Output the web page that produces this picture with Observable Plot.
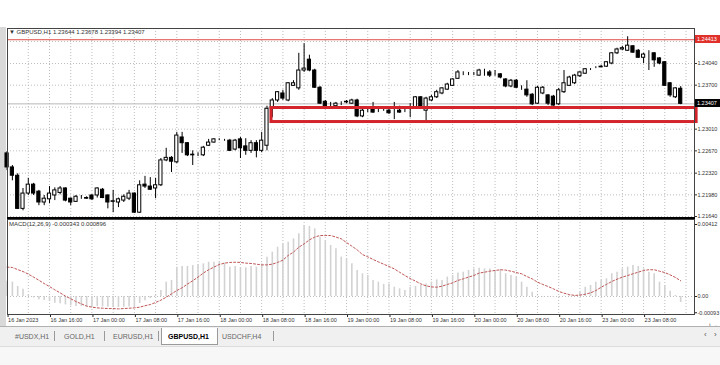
<!DOCTYPE html>
<html><head><meta charset="utf-8">
<script src="https://cdn.jsdelivr.net/npm/d3@7"></script>
<script src="https://cdn.jsdelivr.net/npm/@observablehq/plot@0.6"></script>
<style>
html,body{margin:0;padding:0;}
body{width:720px;height:365px;overflow:hidden;background:#fff;position:relative;font-family:"Liberation Sans",Arial,sans-serif;color:#222;}
.abs{position:absolute;}
#main{position:absolute;left:0;top:28px;}
#macd{position:absolute;left:0;top:219px;}
svg{overflow:visible}
.plbl{position:absolute;left:695px;width:25px;height:8px;font-size:5.5px;line-height:8px;color:#fff;padding-left:2px;box-sizing:border-box;white-space:nowrap;overflow:hidden}
.tab{position:absolute;top:332px;font-size:7px;line-height:9px;color:#666;white-space:nowrap}
.sep{position:absolute;top:331px;width:1px;height:10px;background:#999}
</style></head><body>
<div class="abs" style="left:0;top:27px;width:6px;height:300px;background:#d9d9d9"></div>
<div id="main"></div>
<div id="macd"></div>
<div class="abs" id="hdr" style="left:9px;top:29px;font-size:6px;line-height:7px;color:#333;white-space:nowrap">▼ GBPUSD,H1 1.23644 1.23678 1.23394 1.23407</div>
<div class="abs" id="mhdr" style="left:9px;top:221px;font-size:6px;line-height:7px;color:#333;white-space:nowrap">MACD(12,26,9) -0.000343 0.000896</div>
<div class="abs" style="left:0;top:326px;width:720px;height:39px;background:#f0f0f0;border-top:1px solid #b0b0b0"></div>
<div class="abs" style="left:0;top:346px;width:720px;height:19px;background:#f7f7f7;border-top:1px solid #dcdcdc"></div>
<div class="abs" style="left:161px;top:328px;width:55px;height:16px;background:#fff;border:1px solid #9a9a9a;border-top:none"></div>
<div id="tabs"></div>
<div class="abs" style="left:704px;top:330px;font-size:8px;color:#555">‹</div>
<div class="abs" style="left:714px;top:330px;font-size:8px;color:#555">›</div>
<script>
// ---------- DATA (GBPUSD H1, 128 bars, 16 Jan 08:00 -> 23 Jan 15:00) ----------
const opens = [1.2263,1.2241,1.2228,1.2176,1.2200,1.2214,1.2203,1.2186,1.2191,1.2197,
1.2201,1.2208,1.2192,1.2187,1.2193,1.2193,1.2197,1.2197,1.2206,1.2197,
1.2187,1.2186,1.2189,1.2192,1.2200,1.2170,1.2214,1.2211,1.2208,1.2213,
1.2252,1.2256,1.2249,1.2288,1.2279,1.2260,1.2261,1.2260,1.2275,1.2280,
1.2285,1.2283,1.2283,1.2269,1.2285,1.2274,1.2267,1.2279,1.2267,1.2275,
1.2333,1.2346,1.2357,1.2346,1.2369,1.2365,1.2393,1.2410,1.2393,1.2366,
1.2344,1.2340,1.2337,1.2341,1.2343,1.2341,1.2346,1.2321,1.2330,1.2332,
1.2330,1.2330,1.2330,1.2327,1.2330,1.2330,1.2333,1.2335,1.2351,1.2330,
1.2346,1.2351,1.2357,1.2363,1.2369,1.2380,1.2388,1.2388,1.2387,1.2385,
1.2388,1.2390,1.2388,1.2387,1.2379,1.2368,1.2377,1.2366,1.2363,1.2355,
1.2341,1.2357,1.2354,1.2352,1.2340,1.2359,1.2369,1.2373,1.2384,1.2388,
1.2395,1.2398,1.2398,1.2399,1.2404,1.2420,1.2426,1.2424,1.2431,1.2424,
1.2413,1.2417,1.2420,1.2412,1.2406,1.2373,1.2351,1.23644];
const highs = [1.2266,1.2244,1.2231,1.2208,1.2224,1.2216,1.2205,1.2197,1.2211,1.2209,
1.2211,1.2209,1.2193,1.2197,1.2197,1.2195,1.2198,1.2209,1.2208,1.2198,
1.2205,1.2193,1.2198,1.2205,1.2201,1.2220,1.2227,1.2225,1.2224,1.2255,
1.2271,1.2258,1.2296,1.2296,1.2280,1.2267,1.2264,1.2274,1.2285,1.2286,
1.2286,1.2285,1.2285,1.2285,1.2288,1.2286,1.2283,1.2283,1.2296,1.2337,
1.2349,1.2360,1.2362,1.2374,1.2377,1.2420,1.2435,1.2417,1.2395,1.2368,
1.2346,1.2343,1.2343,1.2344,1.2346,1.2348,1.2348,1.2332,1.2333,1.2343,
1.2333,1.2333,1.2333,1.2343,1.2337,1.2333,1.2341,1.2352,1.2352,1.2351,
1.2354,1.2362,1.2366,1.2373,1.2380,1.2393,1.2391,1.2390,1.2390,1.2395,
1.2395,1.2393,1.2393,1.2388,1.2380,1.2379,1.2379,1.2369,1.2377,1.2357,
1.2368,1.2368,1.2355,1.2354,1.2365,1.2393,1.2384,1.2387,1.2391,1.2396,
1.2396,1.2399,1.2401,1.2407,1.2421,1.2428,1.2431,1.2446,1.2432,1.2426,
1.2420,1.2424,1.2421,1.2413,1.2407,1.2374,1.2366,1.23678];
const lows = [1.2236,1.2220,1.2175,1.2173,1.2197,1.2197,1.2181,1.2181,1.2184,1.2189,
1.2198,1.2187,1.2181,1.2186,1.2191,1.2191,1.2189,1.2193,1.2192,1.2176,
1.2170,1.2178,1.2186,1.2189,1.2169,1.2169,1.2208,1.2205,1.2192,1.2211,
1.2250,1.2233,1.2247,1.2263,1.2258,1.2244,1.2258,1.2258,1.2274,1.2279,
1.2283,1.2282,1.2266,1.2267,1.2255,1.2260,1.2263,1.2256,1.2264,1.2267,
1.2319,1.2343,1.2346,1.2344,1.2368,1.2362,1.2390,1.2391,1.2365,1.2340,
1.2335,1.2335,1.2335,1.2338,1.2341,1.2340,1.2319,1.2319,1.2327,1.2326,
1.2327,1.2329,1.2324,1.2316,1.2326,1.2327,1.2319,1.2333,1.2333,1.2311,
1.2344,1.2349,1.2355,1.2362,1.2368,1.2379,1.2385,1.2385,1.2385,1.2384,
1.2384,1.2382,1.2384,1.2380,1.2366,1.2366,1.2365,1.2362,1.2351,1.2338,
1.2340,1.2355,1.2338,1.2337,1.2338,1.2357,1.2368,1.2371,1.2382,1.2387,
1.2393,1.2396,1.2398,1.2398,1.2402,1.2418,1.2424,1.2423,1.2420,1.2412,
1.2404,1.2393,1.2398,1.2402,1.2368,1.2351,1.2349,1.23394];
const closes = [1.2241,1.2228,1.2176,1.2200,1.2214,1.2200,1.2186,1.2192,1.2200,1.2205,
1.2208,1.2189,1.2186,1.2195,1.2193,1.2192,1.2191,1.2208,1.2193,1.2186,
1.2188,1.2191,1.2195,1.2200,1.2170,1.2213,1.2211,1.2206,1.2213,1.2252,
1.2256,1.2250,1.2291,1.2279,1.2260,1.2261,1.2261,1.2272,1.2280,1.2285,
1.2285,1.2283,1.2267,1.2283,1.2271,1.2267,1.2279,1.2267,1.2283,1.2333,
1.2346,1.2359,1.2349,1.2373,1.2373,1.2393,1.2396,1.2393,1.2366,1.2341,
1.2337,1.2340,1.2341,1.2341,1.2344,1.2346,1.2321,1.2330,1.2330,1.2327,
1.2330,1.2330,1.2326,1.2327,1.2327,1.2330,1.2333,1.2351,1.2335,1.2349,
1.2351,1.2359,1.2365,1.2371,1.2379,1.2390,1.2388,1.2388,1.2387,1.2393,
1.2388,1.2385,1.2388,1.2382,1.2368,1.2377,1.2366,1.2366,1.2354,1.2340,
1.2366,1.2366,1.2341,1.2338,1.2362,1.2373,1.2382,1.2385,1.2390,1.2395,
1.2395,1.2398,1.2399,1.2406,1.2420,1.2426,1.2428,1.2432,1.2421,1.2413,
1.2418,1.2417,1.2409,1.2404,1.2369,1.2354,1.2365,1.23407];
const macdMain = [0.00087,0.00082,0.00057,0.00042,0.00006,-0.00008,-0.00019,-0.00023,-0.00029,-0.00038,
-0.00042,-0.00048,-0.00053,-0.00057,-0.00058,-0.00060,-0.00060,-0.00058,-0.00060,-0.00062,
-0.00063,-0.00063,-0.00062,-0.00060,-0.00060,-0.00040,-0.00025,-0.00012,0.00005,0.00034,
0.00082,0.00092,0.00168,0.00172,0.00172,0.00177,0.00181,0.00187,0.00196,0.00196,
0.00196,0.00191,0.00168,0.00172,0.00164,0.00164,0.00172,0.00168,0.00187,0.00225,
0.00254,0.00282,0.00301,0.00311,0.00330,0.00359,0.00406,0.00401,0.00387,0.00340,
0.00320,0.00292,0.00273,0.00225,0.00216,0.00187,0.00149,0.00130,0.00120,0.00092,
0.00082,0.00069,0.00072,0.00053,0.00044,0.00034,0.00053,0.00057,0.00063,0.00072,
0.00082,0.00095,0.00092,0.00111,0.00120,0.00134,0.00139,0.00149,0.00158,0.00162,
0.00158,0.00158,0.00149,0.00153,0.00130,0.00120,0.00111,0.00082,0.00053,0.00025,
0.00002,-0.00002,-0.00004,-0.00006,-0.00003,0.00002,0.00004,0.00003,0.00025,0.00053,
0.00063,0.00082,0.00092,0.00101,0.00130,0.00139,0.00158,0.00168,0.00177,0.00172,
0.00158,0.00139,0.00130,0.00082,0.00063,0.00030,0.00006,-0.000343];
const macdSignal = [0.00168,0.00166,0.00154,0.00143,0.00128,0.00111,0.00093,0.00074,0.00057,0.00038,
0.00021,0.00002,-0.00013,-0.00029,-0.00042,-0.00055,-0.00061,-0.00065,-0.00067,-0.00069,
-0.00069,-0.00071,-0.00069,-0.00067,-0.00065,-0.00061,-0.00053,-0.00046,-0.00034,-0.00021,
-0.00004,0.00015,0.00034,0.00050,0.00071,0.00090,0.00111,0.00134,0.00153,0.00168,
0.00183,0.00191,0.00195,0.00196,0.00195,0.00191,0.00189,0.00185,0.00181,0.00181,
0.00185,0.00195,0.00208,0.00235,0.00254,0.00282,0.00301,0.00324,0.00340,0.00349,
0.00349,0.00349,0.00340,0.00330,0.00309,0.00288,0.00267,0.00240,0.00227,0.00212,
0.00198,0.00185,0.00172,0.00158,0.00139,0.00120,0.00103,0.00088,0.00072,0.00061,
0.00055,0.00053,0.00059,0.00069,0.00078,0.00092,0.00101,0.00111,0.00120,0.00134,
0.00139,0.00145,0.00149,0.00153,0.00151,0.00145,0.00137,0.00130,0.00114,0.00101,
0.00082,0.00069,0.00057,0.00044,0.00029,0.00019,0.00011,0.00006,0.00008,0.00013,
0.00021,0.00034,0.00053,0.00069,0.00086,0.00099,0.00111,0.00120,0.00130,0.00139,
0.00149,0.00153,0.00153,0.00145,0.00137,0.00124,0.00109,0.000896];
const timeLabels = ["16 Jan 2023","16 Jan 16:00","17 Jan 00:00","17 Jan 08:00","17 Jan 16:00","18 Jan 00:00","18 Jan 08:00","18 Jan 16:00","19 Jan 00:00","19 Jan 08:00","19 Jan 16:00","20 Jan 00:00","20 Jan 08:00","20 Jan 16:00","23 Jan 00:00","23 Jan 08:00"];
const priceTickValues = [1.2164,1.2198,1.2232,1.2267,1.2301,1.2370,1.2404];
const priceTickLabels = ["1.21640","1.21980","1.22320","1.22670","1.23010","1.23700","1.24040"];
const priceGridValues = [1.2164,1.2198,1.2232,1.2267,1.2301,1.23355,1.2370,1.2404,1.24385];
const macdTickValues = [0.00412,0,-0.00093];
const macdTickLabels = ["0.00412","0.00","-0.00093"];
const redLineLevel = 1.24413;
const zoneTop = 1.23342, zoneBottom = 1.23122, zoneStartBar = 49.85, zoneEndBar = 130.0;
const tabNames = ["#USDX,H1","GOLD,H1","EURUSD,H1","GBPUSD,H1","USDCHF,H4"];
const activeTab = "GBPUSD,H1";

// ---------- BUILD ----------
const N = opens.length;
const bars = d3.range(N).map(i => ({i, o: opens[i], h: highs[i], l: lows[i], c: closes[i], m: macdMain[i], s: macdSignal[i]}));
const lastClose = closes[N - 1];
const gridBars = d3.range(4, 132, 4);
const timeTickBars = timeLabels.map((_, k) => k * 8);
const xDomain = [0.08, 129.6];
const font = {fontFamily: "'Liberation Sans', Arial, sans-serif", fontSize: "5.5px", background: "transparent", overflow: "visible", color: "#222"};

const priceFmt = new Map(priceTickValues.map((v, k) => [v, priceTickLabels[k]]));
const macdFmt = new Map(macdTickValues.map((v, k) => [v, macdTickLabels[k]]));

const main = Plot.plot({
  width: 720, height: 190, marginLeft: 7, marginRight: 26, marginTop: 0, marginBottom: 0,
  x: {domain: xDomain, axis: null},
  y: {domain: [1.21609, 1.24589], axis: null},
  style: font,
  marks: [
    Plot.ruleX(gridBars, {stroke: "#bdbdbd", strokeDasharray: "1,2"}),
    Plot.ruleY(priceGridValues, {stroke: "#bdbdbd", strokeDasharray: "1,2"}),
    Plot.ruleY([lastClose], {stroke: "#b8b8b8"}),
    Plot.ruleY([redLineLevel], {stroke: "#e0504a"}),
    Plot.ruleX(bars, {x: "i", y1: "l", y2: "h", stroke: "#000", strokeWidth: 1}),
    Plot.rect(bars, {x1: d => d.i - 0.3, x2: d => d.i + 0.3, y1: "o", y2: "c",
      fill: d => d.c >= d.o ? "#ffffff" : "#000000", stroke: "#000", strokeWidth: 1}),
    Plot.rect([{x1: zoneStartBar, x2: zoneEndBar, y1: zoneBottom, y2: zoneTop}],
      {x1: "x1", x2: "x2", y1: "y1", y2: "y2", fill: "none", stroke: "#d3242b", strokeWidth: 3}),
    Plot.axisY({anchor: "right", ticks: priceTickValues, tickFormat: d => priceFmt.get(d), tickSize: 2, tickPadding: 1, fontSize: 5.5, stroke: "#333", fill: "#333"}),
    Plot.frame({stroke: "#444"})
  ]
});
document.getElementById("main").appendChild(main);

const macd = Plot.plot({
  width: 720, height: 110, marginLeft: 7, marginRight: 26, marginTop: 0, marginBottom: 15,
  x: {domain: xDomain, axis: null},
  y: {domain: [-0.00103, 0.004406], axis: null},
  style: font,
  marks: [
    Plot.ruleX(gridBars, {stroke: "#bdbdbd", strokeDasharray: "1,2"}),
    Plot.ruleY([0], {stroke: "#bdbdbd", strokeDasharray: "1,2"}),
    Plot.ruleX(bars, {x: "i", y1: 0, y2: "m", stroke: "#d2d2d2", strokeWidth: 1.6}),
    Plot.line(bars, {x: "i", y: "s", stroke: "#bf5555", strokeWidth: 1, strokeDasharray: "2,2"}),
    Plot.axisY({anchor: "right", ticks: macdTickValues, tickFormat: d => macdFmt.get(d), tickSize: 2, tickPadding: 1, fontSize: 5.5, fill: "#333"}),
    Plot.axisX({anchor: "bottom", ticks: timeTickBars, tickFormat: d => timeLabels[d / 8], tickSize: 3, tickPadding: 0.5, textAnchor: "start", dx: 1, fontSize: 5.5, fill: "#333"}),
    Plot.frame({stroke: "#444"})
  ]
});
document.getElementById("macd").appendChild(macd);

// thick separator between panels
const sep = document.createElement("div");
sep.className = "abs";
Object.assign(sep.style, {left: "7px", top: "217px", width: "688px", height: "2px", background: "#000"});
document.body.appendChild(sep);

// price labels (red line level and last close) placed with the plot's own y scale
const ys = main.scale("y");
function priceBox(v, bg, txt) {
  const d = document.createElement("div");
  d.className = "plbl";
  d.style.top = (28 + ys.apply(v) - 4) + "px";
  d.style.background = bg;
  d.textContent = txt;
  document.body.appendChild(d);
}
priceBox(redLineLevel, "#e0302a", redLineLevel.toFixed(5));
priceBox(lastClose, "#000", lastClose.toFixed(5));

// tabs
const tabX = [15, 64, 113, 168, 222];
const sepX = [54, 104, 158, 273];
const tabs = document.getElementById("tabs");
tabNames.forEach((t, k) => {
  const s = document.createElement("div");
  s.className = "tab";
  s.style.left = tabX[k] + "px";
  s.textContent = t;
  if (t === activeTab) { s.style.color = "#000"; s.style.fontWeight = "bold"; }
  tabs.appendChild(s);
});
sepX.forEach(x => {
  const s = document.createElement("div");
  s.className = "sep";
  s.style.left = x + "px";
  tabs.appendChild(s);
});
</script>
</body></html>
